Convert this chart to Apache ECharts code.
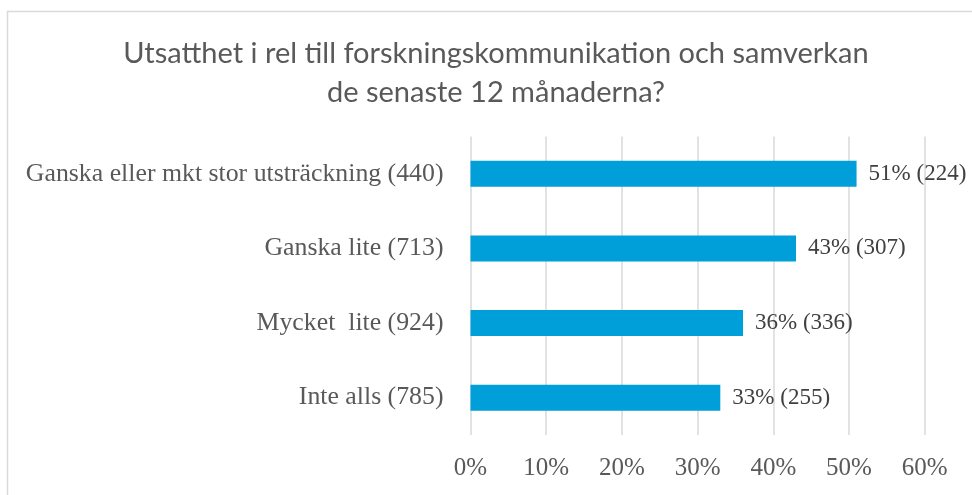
<!DOCTYPE html>
<html>
<head>
<meta charset="utf-8">
<script src="https://cdn.jsdelivr.net/npm/echarts@6/dist/echarts.min.js"></script>
<style>
html,body{margin:0;padding:0;background:#fff;}
#c{width:972px;height:495px;}
</style>
</head>
<body>
<div id="c"></div>
<script>
var categories = ['Ganska eller mkt stor utsträckning (440)', 'Ganska lite (713)', 'Mycket  lite (924)', 'Inte alls (785)'];
var percentValues = [51, 43, 36, 33];
var counts = [224, 307, 336, 255];
var xTicks = [0, 10, 20, 30, 40, 50, 60];

var chart = echarts.init(document.getElementById('c'), null, {renderer: 'canvas'});
var serif = '"Liberation Serif", "DejaVu Serif", serif';
chart.setOption({
  backgroundColor: '#ffffff',
  animation: false,
  graphic: [{
    type: 'rect',
    shape: {x: 7.5, y: 11.5, width: 1000, height: 600},
    style: {fill: 'none', stroke: '#d9d9d9', lineWidth: 1.5},
    silent: true, z: -10
  }],
  title: {
    text: 'Utsatthet i rel till forskningskommunikation och samverkan\nde senaste 12 månaderna?',
    left: 491, top: 29, textAlign: 'center',
    textStyle: {fontFamily: 'Lato, "Open Sans", sans-serif', fontSize: 29, fontWeight: 'normal', color: '#595959', lineHeight: 39}
  },
  grid: {left: 470.5, right: 47.3, top: 136.5, bottom: 60, containLabel: false},
  xAxis: {
    type: 'value', min: xTicks[0], max: xTicks[xTicks.length - 1], interval: 10,
    axisLine: {show: false}, axisTick: {show: false},
    splitLine: {show: true, lineStyle: {color: '#d9d9d9', width: 1.5}},
    axisLabel: {formatter: function (v) { return v + '%'; }, margin: 21, fontFamily: serif, fontSize: 25, color: '#595959'}
  },
  yAxis: {
    type: 'category', data: categories, inverse: true,
    axisLine: {show: false}, axisTick: {show: false},
    axisLabel: {margin: 27, fontFamily: serif, fontSize: 25.8, color: '#595959'}
  },
  series: [{
    type: 'bar', data: percentValues, barWidth: 26,
    itemStyle: {color: '#009fd9'},
    label: {
      show: true, position: 'right', distance: 12,
      fontFamily: serif, fontSize: 23, color: '#404040',
      formatter: function (p) { return p.value + '% (' + counts[p.dataIndex] + ')'; }
    }
  }]
});
</script>
</body>
</html>
